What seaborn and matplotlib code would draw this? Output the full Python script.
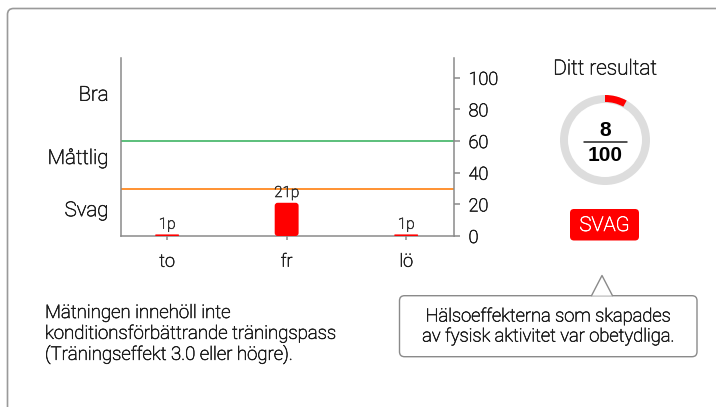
import numpy as np
import pandas as pd
import matplotlib
matplotlib.use("Agg")
import matplotlib.pyplot as plt
import matplotlib.patheffects as pe
from matplotlib.text import Text
from matplotlib.patches import FancyBboxPatch, Wedge, Polygon
from matplotlib.lines import Line2D
import seaborn as sns

# --- data -------------------------------------------------------------
days = ["to", "fr", "lö"]
points = [1, 21, 1]
bar_labels = ["1p", "21p", "1p"]

zone_names = ["Svag", "Måttlig", "Bra"]
zone_label_pos = [16, 49, 89]
zone_limits = [30, 60]
zone_colors = ["#ff7f0e", "#3fb465"]

y_ticks = [0, 20, 40, 60, 80, 100]

score = 8
score_max = 100
score_level = "SVAG"

title_right = "Ditt resultat"
note_left = ["Mätningen innehöll inte",
             "konditionsförbättrande träningspass",
             "(Träningseffekt 3.0 eller högre)."]
callout_lines = ["Hälsoeffekterna som skapades",
                 "av fysisk aktivitet var obetydliga."]

# --- style ------------------------------------------------------------
sns.set_theme(style="white")
plt.rcParams["font.family"] = ["Roboto", "DejaVu Sans"]
plt.rcParams["font.weight"] = "light"

W, H = 716, 407
fig = plt.figure(figsize=(W / 100, H / 100), dpi=100)
fig.patch.set_facecolor("white")

TXT = "#1e1e1e"
SPINE = "#8a8a8a"

# Overlay axes in pixel coordinates for the card and side widgets
ov = fig.add_axes([0, 0, 1, 1], zorder=0)
ov.set_xlim(0, W)
ov.set_ylim(H, 0)
ov.axis("off")
ov.patch.set_alpha(0)

# card border (continues past the right and bottom edges)
card = FancyBboxPatch((7.5, 8.5), W + 20, H + 20,
                      boxstyle="round,pad=0,rounding_size=6",
                      fc="white", ec="#9a9a9a", lw=1.2)
ov.add_patch(card)

# --- main bar chart ---------------------------------------------------
ax_l, ax_r = 120.5, 454.0
ax_t, ax_b = 58.0, 236.0
ax = fig.add_axes([ax_l / W, 1 - ax_b / H, (ax_r - ax_l) / W, (ax_b - ax_t) / H],
                  zorder=2)
ax.patch.set_alpha(0)

df = pd.DataFrame({"day": days, "points": points})
sns.barplot(data=df, x="day", y="points", order=days, color="#ff0000",
            width=0.2, saturation=1, ax=ax, zorder=3)

ymax = 112.5
ax.set_ylim(0, ymax)
ax.set_xlim(-0.39, 2.4)

# rounded tops for the bars
px_per_x = (ax_r - ax_l) / (2.4 + 0.39)
px_per_y = (ax_b - ax_t) / ymax
for p in list(ax.patches):
    x0, y0 = p.get_x(), p.get_y()
    w, h = p.get_width(), p.get_height()
    r_px = min(3.0, h * px_per_y / 2)
    p.remove()
    rb = FancyBboxPatch((x0, y0), w, h,
                        boxstyle=f"round,pad=0,rounding_size={r_px / px_per_x}",
                        mutation_aspect=px_per_x / px_per_y,
                        fc="#ff0000", ec="none", zorder=3)
    ax.add_patch(rb)

# zone boundaries
for lim, col in zip(zone_limits, zone_colors):
    ax.axhline(lim, color=col, lw=1.2, zorder=2)

# value labels above bars
for i, (v, lab) in enumerate(zip(points, bar_labels)):
    ax.annotate(lab, (i, v), xytext=(0, 2), textcoords="offset points",
                ha="center", va="bottom", fontsize=11, color="#333333",
                zorder=4)

# zone names on the left
for name, yv in zip(zone_names, zone_label_pos):
    ax.text(-0.036, yv, name, transform=ax.get_yaxis_transform(),
            ha="right", va="center", fontsize=14.7, color=TXT)

ax.set_xlabel("")
ax.set_ylabel("")
ax.yaxis.tick_right()
ax.set_yticks(y_ticks)
ax.tick_params(axis="y", which="both", right=True, left=False, length=4.5,
               width=1.1, color=SPINE, labelsize=13, labelcolor=TXT, pad=6)
ax.tick_params(axis="x", bottom=True, length=3, width=1.1, color=SPINE,
               labelsize=13, labelcolor=TXT, pad=9)
ax.spines["top"].set_visible(False)
for s in ("left", "right", "bottom"):
    ax.spines[s].set_color(SPINE)
    ax.spines[s].set_linewidth(1.1)
    ax.spines[s].set_visible(True)

# --- score widget -----------------------------------------------------
cx, cy, R, ring = 605.0, 140.0, 45.0, 8.0
ov.text(cx, 69, title_right, ha="center", va="center", fontsize=15,
        color=TXT, zorder=3)
ov.add_patch(Wedge((cx, cy), R, 0, 360, width=ring, fc="#dddddd", ec="none",
                   zorder=2))
frac = score / score_max
ov.add_patch(Wedge((cx, cy), R, -90, -90 + 360 * frac, width=ring - 1,
                   fc="#ff0000", ec="none", zorder=3))
bold_texts = []
bold_texts.append(ov.text(cx, 130, str(score), ha="center", va="center",
                          fontsize=15, fontweight="bold",
                          family=["Liberation Sans", "DejaVu Sans"],
                          color="black", zorder=3))
bold_texts.append(ov.text(cx, 155.5, str(score_max), ha="center", va="center",
                          fontsize=15, fontweight="bold",
                          family=["Liberation Sans", "DejaVu Sans"],
                          color="black", zorder=3))
ov.add_line(Line2D([584, 627], [141.7, 141.7], color="#222222", lw=1.1,
                   zorder=3))

# level badge
ov.add_patch(FancyBboxPatch((570, 209), 69, 31.5,
                            boxstyle="round,pad=0,rounding_size=4",
                            fc="#ff0000", ec="none", zorder=3))
ov.text(604.5, 225.5, score_level, ha="center", va="center", fontsize=14.6,
        color="white", zorder=4)

# --- callout ------------------------------------------------------------
bx0, bx1, by0, by1 = 399.5, 697.0, 295.7, 356.7
ov.add_patch(FancyBboxPatch((bx0, by0), bx1 - bx0, by1 - by0,
                            boxstyle="round,pad=0,rounding_size=5",
                            fc="white", ec="#8a8a8a", lw=1.0, zorder=3))
apex = (602.0, 275.5)
base_l, base_r = (591.5, by0), (612.5, by0)
ov.add_patch(Polygon([base_l, apex, base_r], closed=True, fc="white",
                     ec="none", zorder=4))
ov.add_line(Line2D([base_l[0], apex[0], base_r[0]],
                   [base_l[1], apex[1], base_r[1]],
                   color="#8a8a8a", lw=1.0, zorder=5))
for k, line in enumerate(callout_lines):
    ov.text((bx0 + bx1) / 2, 316.5 + 20 * k, line, ha="center", va="center",
            fontsize=13.2, color=TXT, zorder=6)

# --- note on the left ---------------------------------------------------
for k, line in enumerate(note_left):
    ov.text(45, 313 + 20.8 * k, line, ha="left", va="center", fontsize=13.4,
            color=TXT, zorder=3)

# give the light face a touch more weight
fig.canvas.draw()
for t in fig.findobj(Text):
    if t in bold_texts or not t.get_text():
        continue
    t.set_path_effects([pe.withStroke(linewidth=0.45,
                                      foreground=t.get_color())])

fig.savefig("out.png", dpi=100, facecolor="white")
